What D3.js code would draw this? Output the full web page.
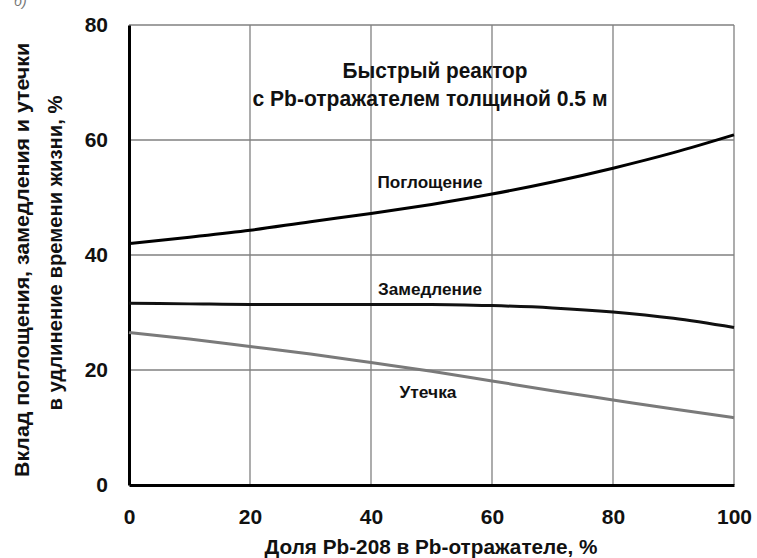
<!DOCTYPE html>
<html><head><meta charset="utf-8">
<script src="https://cdn.jsdelivr.net/npm/d3@7"></script>
<style>
html,body{margin:0;padding:0;background:#fff;}
svg text{font-family:"Liberation Sans Narrow","Arial Narrow","Liberation Sans",sans-serif;font-weight:bold;fill:#111;}
</style></head>
<body><svg id="c" width="757" height="558"></svg>
<script>
const xValues = [0,10,20,30,40,50,60,70,80,90,100];
const absorption = [42.0,43.1,44.3,45.8,47.2,48.8,50.6,52.7,55.1,57.8,60.9];
const moderation = [31.6,31.5,31.4,31.4,31.4,31.4,31.2,30.8,30.1,29.0,27.4];
const leakage = [26.5,25.4,24.1,22.8,21.3,19.8,18.1,16.4,14.8,13.2,11.7];
const xTicks = [0,20,40,60,80,100];
const yTicks = [0,20,40,60,80];
const seriesNames = ["Поглощение","Замедление","Утечка"];
const titleLines = ["Быстрый реактор","с Pb-отражателем толщиной 0.5 м"];
const xTitle = "Доля Pb-208 в Pb-отражателе, %";
const yTitleLines = ["Вклад поглощения, замедления и утечки","в удлинение времени жизни, %"];
const panelLetter = "б)";

const svg = d3.select("#c");
const L=129, R=734, T=25, B=485;
const x = d3.scaleLinear().domain([0,100]).range([L,R]);
const y = d3.scaleLinear().domain([0,80]).range([B,T]);

// partial panel letter at top-left (cut by the top edge, as in the source)
svg.append("text").attr("x",14).attr("y",6).attr("font-size",14)
  .style("font-style","italic").style("font-weight","normal").style("fill","#777").text(panelLetter);

// grid
const g = svg.append("g");
g.selectAll(".vg").data(xTicks.slice(1)).enter().append("line")
  .attr("x1",d=>x(d)).attr("x2",d=>x(d)).attr("y1",T).attr("y2",B)
  .attr("stroke","#808080").attr("stroke-width",1.3);
g.selectAll(".hg").data(yTicks.slice(1)).enter().append("line")
  .attr("x1",L).attr("x2",R).attr("y1",d=>y(d)).attr("y2",d=>y(d))
  .attr("stroke","#808080").attr("stroke-width",1.3);

// axes
const xAxis = d3.axisBottom(x).tickValues(xTicks).tickSize(0).tickPadding(24);
const xa = svg.append("g").attr("transform",`translate(0,${B})`).call(xAxis);
xa.select(".domain").attr("stroke","#000").attr("stroke-width",3);
xa.selectAll("text").attr("font-size",21).style("fill","#111");
const yAxis = d3.axisLeft(y).tickValues(yTicks).tickSize(0).tickPadding(21);
const ya = svg.append("g").attr("transform",`translate(${L},0)`).call(yAxis);
ya.select(".domain").attr("stroke","#000").attr("stroke-width",3);
ya.selectAll("text").attr("font-size",21).style("fill","#111");

// lines
const line = d3.line().x((d,i)=>x(xValues[i])).y(d=>y(d)).curve(d3.curveMonotoneX);
const series = [
  {name:seriesNames[0], values:absorption, color:"#000", lx:430, ly:182, w:105},
  {name:seriesNames[1], values:moderation, color:"#111", lx:430, ly:289, w:104},
  {name:seriesNames[2], values:leakage, color:"#7a7a7a", lx:428, ly:392, w:57}
];
svg.selectAll(".ser").data(series).enter().append("path")
  .attr("d",d=>line(d.values)).attr("fill","none")
  .attr("stroke",d=>d.color).attr("stroke-width",3);
svg.selectAll(".lab").data(series).enter().append("text")
  .attr("x",d=>d.lx).attr("y",d=>d.ly).attr("dy","0.35em")
  .attr("text-anchor","middle").attr("font-size",17)
  .attr("textLength",d=>d.w).attr("lengthAdjust","spacingAndGlyphs").text(d=>d.name);

// title
const titleX=[435,430], titleBase=[78,106], titleW=[185,355];
svg.selectAll(".tt").data(titleLines).enter().append("text")
  .attr("x",(d,i)=>titleX[i]).attr("y",(d,i)=>titleBase[i])
  .attr("text-anchor","middle").attr("font-size",21.5)
  .attr("textLength",(d,i)=>titleW[i]).attr("lengthAdjust","spacingAndGlyphs").text(d=>d);

// axis titles
svg.append("text").attr("x",431).attr("y",547).attr("dy","0.35em")
  .attr("text-anchor","middle").attr("font-size",21)
  .attr("textLength",333).attr("lengthAdjust","spacingAndGlyphs").text(xTitle);
const yW=[434,315];
svg.selectAll(".yt").data(yTitleLines).enter().append("text")
  .attr("transform",(d,i)=>`translate(${22+i*33},${i?253:260}) rotate(-90)`)
  .attr("dy","0.35em").attr("text-anchor","middle").attr("font-size",21)
  .attr("textLength",(d,i)=>yW[i]).attr("lengthAdjust","spacingAndGlyphs").text(d=>d);
</script></body></html>
